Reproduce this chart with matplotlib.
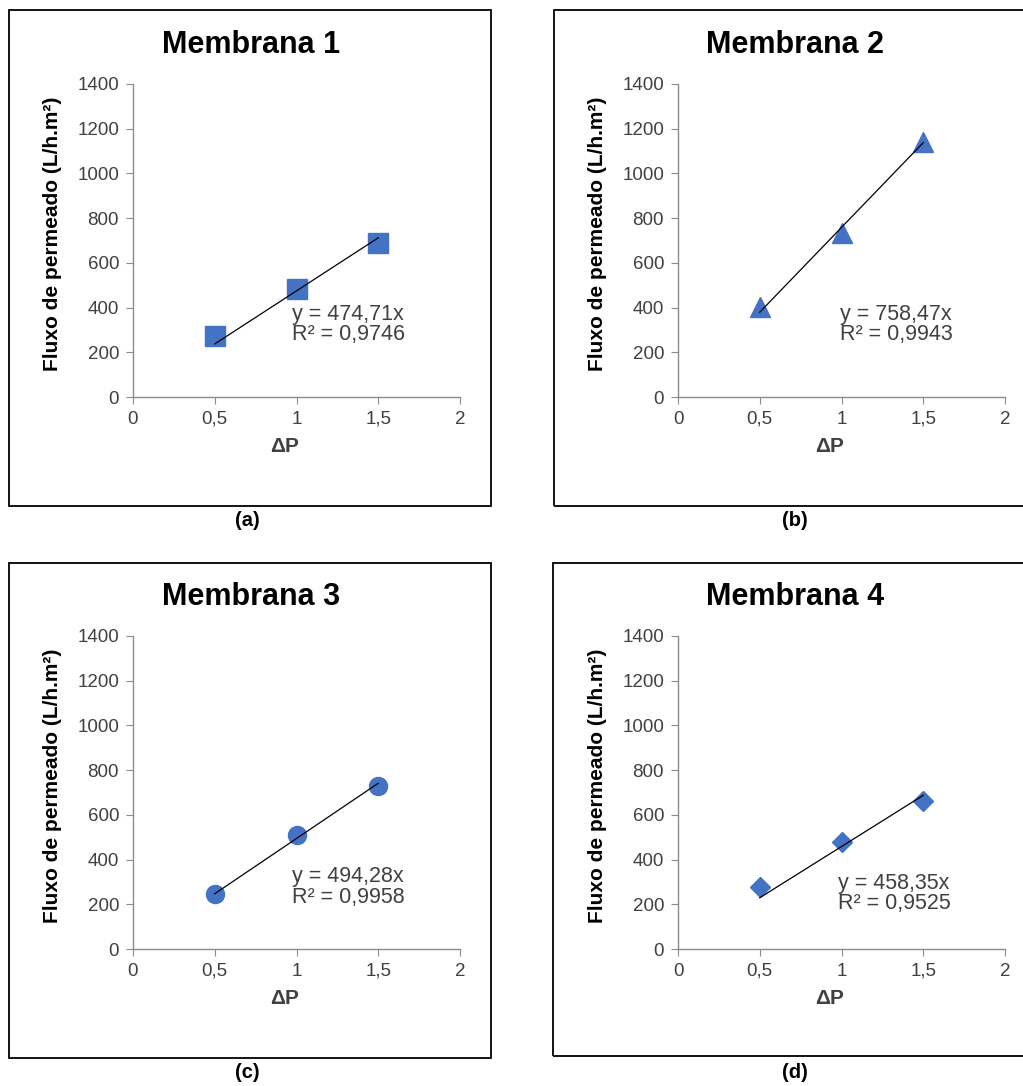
import matplotlib.pyplot as plt
from matplotlib.patches import Rectangle

plt.rcParams['font.family'] = ['Liberation Sans', 'DejaVu Sans']

# dados
dp = [0.5, 1.0, 1.5]
fluxo_m1 = [275, 485, 690]
fluxo_m2 = [402, 733, 1141]
fluxo_m3 = [248, 512, 728]
fluxo_m4 = [278, 478, 660]

titulos = ["Membrana 1", "Membrana 2", "Membrana 3", "Membrana 4"]
legendas = ["(a)", "(b)", "(c)", "(d)"]
inclinacoes = [474.71, 758.47, 494.28, 458.35]
r2 = ["0,9746", "0,9943", "0,9958", "0,9525"]
eq_pos = [(0.97, 326), (0.99, 326), (0.97, 277), (0.98, 248)]
marcadores = ["s", "^", "o", "D"]
tam_marcador = [14, 14, 13, 10]
x_ticks = [0, 0.5, 1, 1.5, 2]
x_ticklabels = ["0", "0,5", "1", "1,5", "2"]
y_ticks = [0, 200, 400, 600, 800, 1000, 1200, 1400]

fluxos = [fluxo_m1, fluxo_m2, fluxo_m3, fluxo_m4]

W, H = 1023, 1086
fig = plt.figure(figsize=(W / 100, H / 100), dpi=100)

azul = "#4472C4"
cinza = "#8c8c8c"
texto = "#404040"

# posicoes em pixels: eixo esquerdo, topo do eixo, moldura
pos_eixo = [(133, 84), (678, 84), (133, 636), (678, 636)]
molduras = [(9, 10, 491, 506), (554, 10, 1030, 506), (9, 563, 491, 1058), (553, 563, 1030, 1056)]
legenda_xy = [(247, 521), (795, 521), (247, 1073), (795, 1073)]
titulo_xy = [(251, 45), (795, 45), (251, 597), (795, 597)]

for i in range(4):
    x0, y0, x1, y1 = molduras[i]
    fig.patches.append(Rectangle((x0 / W, 1 - y1 / H), (x1 - x0) / W, (y1 - y0) / H,
                                 transform=fig.transFigure, fill=False,
                                 edgecolor="black", linewidth=1.3))
    lx, ly = legenda_xy[i]
    fig.text(lx / W, 1 - ly / H, legendas[i], ha="center", va="center",
             fontsize=14.5, fontweight="bold", color="black")
    tx, ty = titulo_xy[i]
    fig.text(tx / W, 1 - ty / H, titulos[i], ha="center", va="center",
             fontsize=22, fontweight="bold", color="black")

    ax_l, ax_t = pos_eixo[i]
    ax = fig.add_axes([ax_l / W, 1 - (ax_t + 313) / H, 327 / W, 313 / H])
    ax.plot(dp, fluxos[i], linestyle="none", marker=marcadores[i],
            markersize=tam_marcador[i], color=azul, zorder=2)
    ax.plot([dp[0], dp[-1]], [inclinacoes[i] * dp[0], inclinacoes[i] * dp[-1]],
            color="black", linewidth=0.9, zorder=3)

    ex, ey = eq_pos[i]
    s = f"{inclinacoes[i]:.2f}".replace(".", ",")
    ax.text(ex, ey, f"y = {s}x\nR² = {r2[i]}", fontsize=15.5, color=texto,
            ha="left", va="center", linespacing=0.95)

    ax.set_xlim(0, 2)
    ax.set_ylim(0, 1400)
    ax.set_xticks(x_ticks)
    ax.set_xticklabels(x_ticklabels)
    ax.set_yticks(y_ticks)
    ax.spines["top"].set_visible(False)
    ax.spines["right"].set_visible(False)
    for sp in ["left", "bottom"]:
        ax.spines[sp].set_color(cinza)
        ax.spines[sp].set_linewidth(1.0)
    ax.tick_params(direction="out", length=5, color=cinza, labelsize=13.5,
                   labelcolor=texto, pad=5)
    ax.set_xlabel("ΔP", fontsize=15, fontweight="bold", color=texto)
    ax.xaxis.set_label_coords(0.465, -0.128)
    ax.set_ylabel("Fluxo de permeado (L/h.m²)", fontsize=15,
                  fontweight="bold", color="black")
    ax.yaxis.set_label_coords(-0.218, 0.52)
    ax.patch.set_alpha(0)

fig.savefig("out.png", dpi=100, facecolor="white")
